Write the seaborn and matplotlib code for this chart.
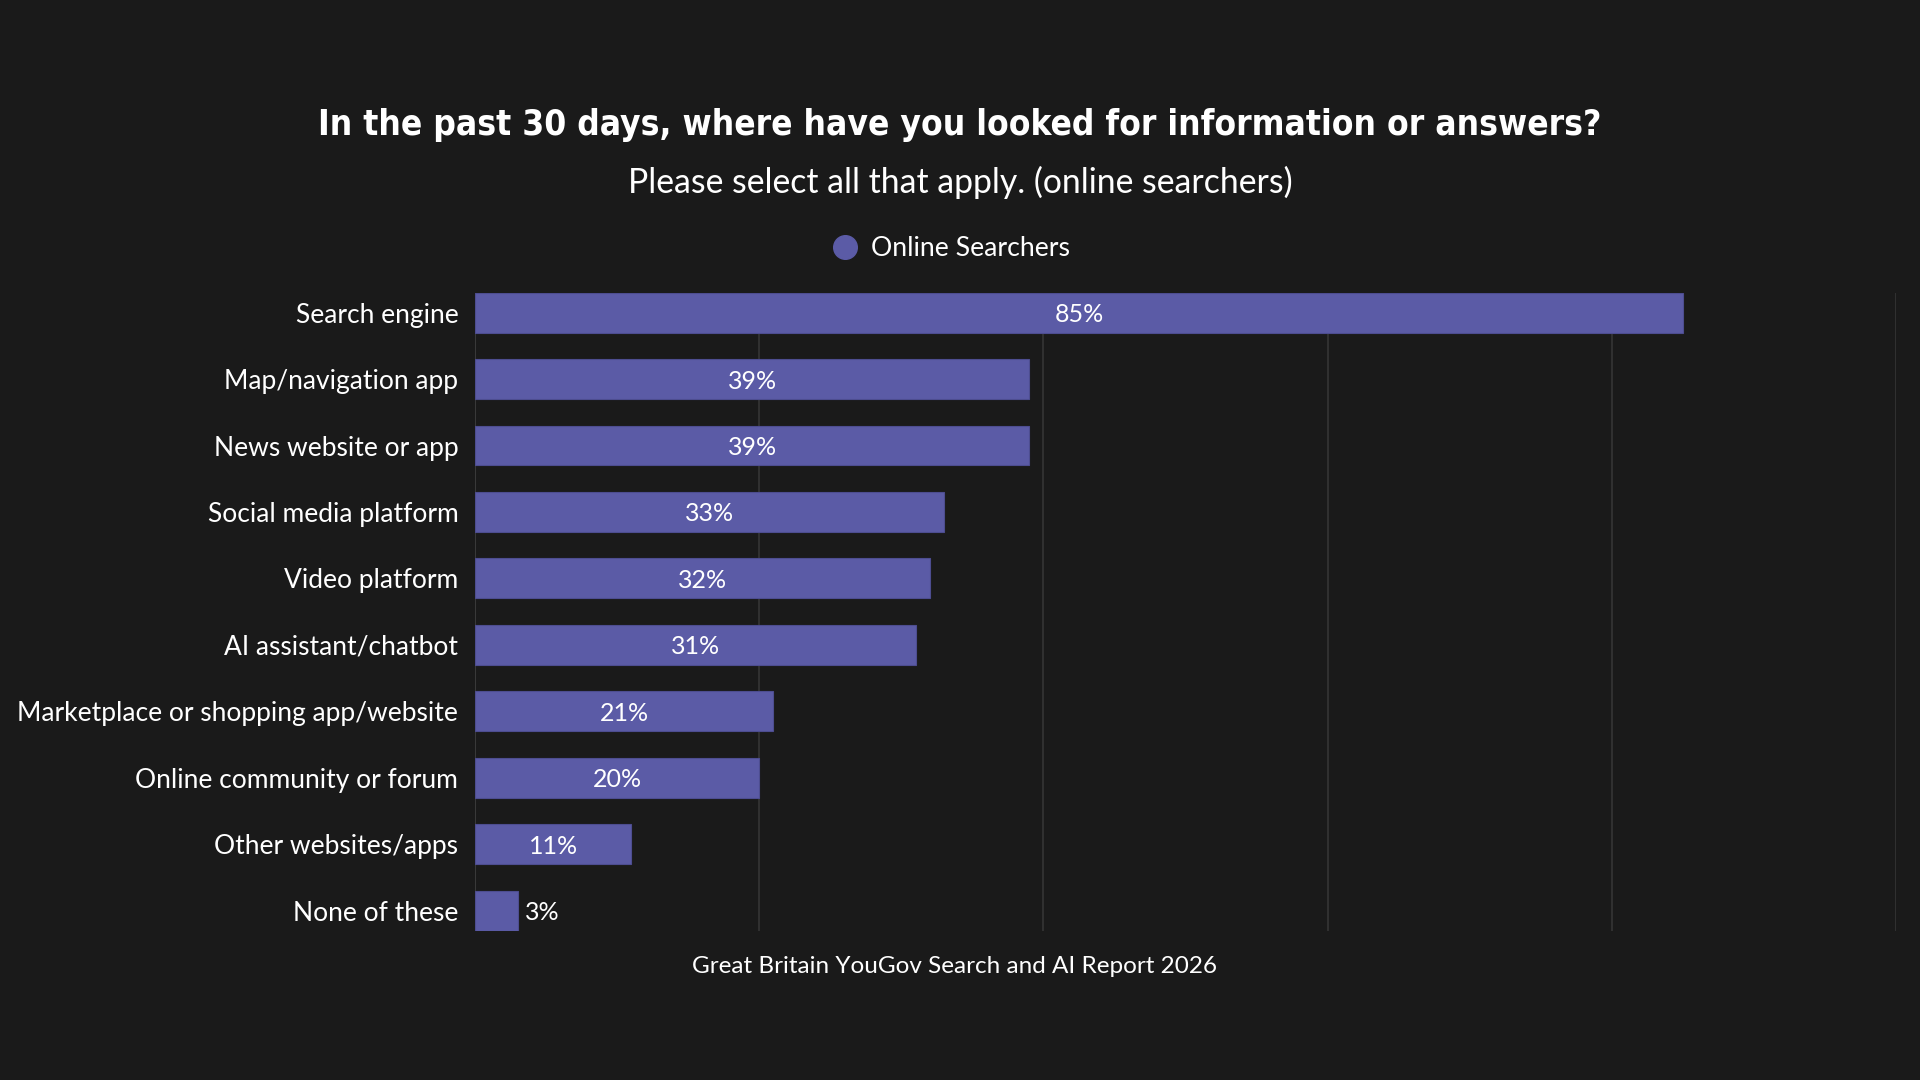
import matplotlib
matplotlib.use("Agg")
import matplotlib.pyplot as plt
from matplotlib.lines import Line2D
from matplotlib import font_manager
import seaborn as sns
import pandas as pd

categories = [
    "Search engine",
    "Map/navigation app",
    "News website or app",
    "Social media platform",
    "Video platform",
    "AI assistant/chatbot",
    "Marketplace or shopping app/website",
    "Online community or forum",
    "Other websites/apps",
    "None of these",
]
values = [85, 39, 39, 33, 32, 31, 21, 20, 11, 3]
series_name = "Online Searchers"
x_ticks = [0, 20, 40, 60, 80, 100]

title = "In the past 30 days, where have you looked for information or answers?"
subtitle = "Please select all that apply. (online searchers)"
footer = "Great Britain YouGov Search and AI Report 2026"

BG = "#1a1a1a"
BAR = "#5b5ba6"
GRID = "#333333"

flist = font_manager.fontManager.ttflist
names = {f.name for f in flist}

# condensed bold font for the title if any is installed
title_font, title_stretch = "Roboto", "normal"
cond = [f for f in flist if str(f.stretch) in ("condensed", "semi-condensed", "extra-condensed", "ultra-condensed")
        or (isinstance(f.stretch, (int, float)) and f.stretch < 500)
        or "Condensed" in f.name or "Narrow" in f.name]
if cond:
    title_font, title_stretch = cond[0].name, cond[0].stretch
elif "Roboto" not in names:
    title_font = "DejaVu Sans"
body_font = "Lato" if "Lato" in names else "DejaVu Sans"

sns.set_theme(style="dark")
plt.rcParams["font.family"] = [body_font, "DejaVu Sans"]

df = pd.DataFrame({"category": categories, "value": values, "series": series_name})

fig = plt.figure(figsize=(19.2, 10.8), dpi=100, facecolor=BG)
ax = fig.add_axes([0.2474, 0.1383, 0.9875 - 0.2474, 0.729 - 0.1383])
ax.set_facecolor(BG)

sns.barplot(data=df, x="value", y="category", color=BAR, width=0.6, saturation=1,
            orient="h", ax=ax, zorder=3, edgecolor="#4d4d90", linewidth=0.8)

ax.set_xlim(0, 100)
ax.set_ylim(9 + 0.3, -0.3)
ax.set_xticks(x_ticks)
ax.set_xticklabels([])
ax.tick_params(axis="x", length=0)
ax.grid(axis="x", color=GRID, linewidth=1.3, zorder=0)
ax.grid(axis="y", visible=False)
for s in ax.spines.values():
    s.set_visible(False)
ax.axvline(0, color="#3a3a3a", linewidth=1.3, zorder=1)

ax.set_xlabel("")
ax.set_ylabel("")
ax.tick_params(axis="y", length=0, pad=12, labelsize=19, labelcolor="white")

for i, v in enumerate(values):
    if v >= 8:
        ax.text(v / 2, i, f"{v}%", ha="center", va="center_baseline", color="white",
                fontsize=18, zorder=4)
    else:
        ax.text(v + 0.5, i, f"{v}%", ha="left", va="center_baseline", color="white",
                fontsize=18, zorder=4)

t = fig.text(0.5, 0.884, title, ha="center", va="center", color="white",
             fontsize=38, fontweight="bold", family=[title_font, "DejaVu Sans"],
             fontstretch=title_stretch)
fig.canvas.draw()
w = t.get_window_extent().width
t.set_fontsize(38 * 1285 / w)

fig.text(0.5, 0.831, subtitle, ha="center", va="center", color="white",
         fontsize=24.3, family=[body_font, "DejaVu Sans"])

handle = Line2D([0], [0], marker="o", linestyle="", markersize=17,
                markerfacecolor=BAR, markeredgecolor=BAR)
leg = fig.legend([handle], [series_name], loc="center", bbox_to_anchor=(0.4946, 0.77),
                 frameon=False, fontsize=19.2, labelcolor="white",
                 handletextpad=0.35, handlelength=1.2, borderaxespad=0)

fig.text(0.497, 0.105, footer, ha="center", va="center", color="white",
         fontsize=17.5)

fig.savefig("out.png", dpi=100, facecolor=BG)
